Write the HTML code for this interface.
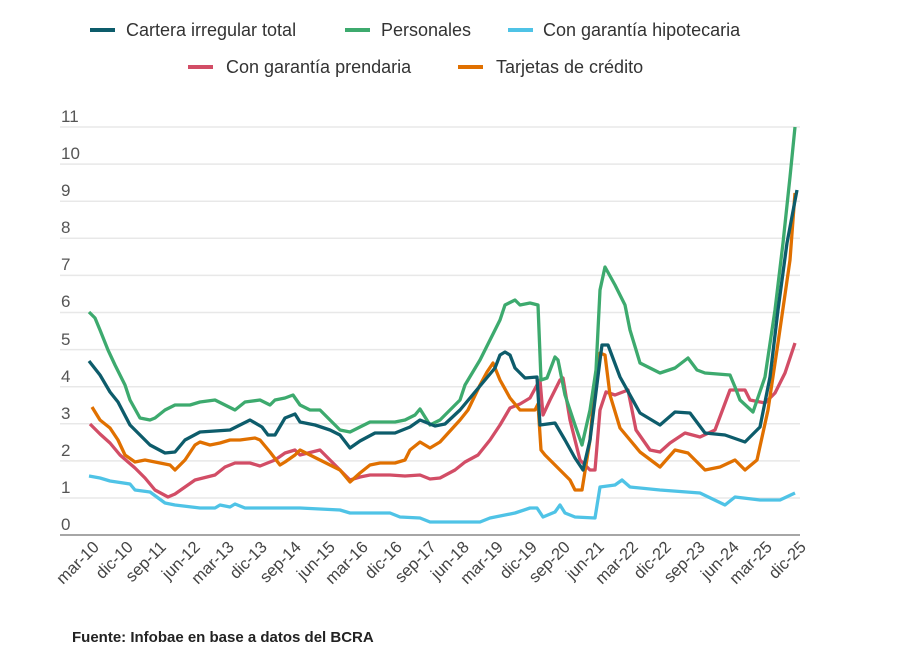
<!DOCTYPE html>
<html><head><meta charset="utf-8"><style>
body{margin:0;background:#fff;width:900px;height:667px;overflow:hidden;font-family:"Liberation Sans",sans-serif}
</style></head><body>
<svg width="900" height="667" xmlns="http://www.w3.org/2000/svg" font-family="Liberation Sans, sans-serif">
<g font-size="18" fill="#333">
<line x1="90" y1="30" x2="115" y2="30" stroke="#0d5c6b" stroke-width="4"/><text x="126" y="36">Cartera irregular total</text>
<line x1="345" y1="30" x2="370" y2="30" stroke="#3daa6e" stroke-width="4"/><text x="381" y="36">Personales</text>
<line x1="508" y1="30" x2="533" y2="30" stroke="#4fc3e6" stroke-width="4"/><text x="543" y="36">Con garantía hipotecaria</text>
<line x1="188" y1="67" x2="213" y2="67" stroke="#d24d66" stroke-width="4"/><text x="226" y="73">Con garantía prendaria</text>
<line x1="458" y1="67" x2="483" y2="67" stroke="#e07000" stroke-width="4"/><text x="496" y="73">Tarjetas de crédito</text>
</g>
<g stroke="#e8e8e8" stroke-width="1.5">
<line x1="60" x2="800" y1="127" y2="127"/><line x1="60" x2="800" y1="164.1" y2="164.1"/><line x1="60" x2="800" y1="201.2" y2="201.2"/><line x1="60" x2="800" y1="238.3" y2="238.3"/><line x1="60" x2="800" y1="275.4" y2="275.4"/><line x1="60" x2="800" y1="312.5" y2="312.5"/><line x1="60" x2="800" y1="349.6" y2="349.6"/><line x1="60" x2="800" y1="386.7" y2="386.7"/><line x1="60" x2="800" y1="423.8" y2="423.8"/><line x1="60" x2="800" y1="460.9" y2="460.9"/><line x1="60" x2="800" y1="498" y2="498"/>
</g>
<line x1="60" x2="800" y1="535" y2="535" stroke="#888" stroke-width="1.5"/>
<g font-size="17" fill="#555">
<text x="61" y="122">11</text><text x="61" y="159">10</text><text x="61" y="196">9</text><text x="61" y="233">8</text><text x="61" y="270">7</text><text x="61" y="307">6</text><text x="61" y="345">5</text><text x="61" y="382">4</text><text x="61" y="419">3</text><text x="61" y="456">2</text><text x="61" y="493">1</text><text x="61" y="530">0</text>
</g>
<g fill="none" stroke-width="3.3" stroke-linejoin="round">
<polyline stroke="#4fc3e6" points="89,476 100,478 110,481 130,484 135,490 150,492 165,503 175,505 200,508 215,508 220,505 230,507 235,504 245,508 300,508 340,510 350,513 390,513 400,517 420,518 430,522 480,522 490,518 515,513 530,508 537,508 543,517 555,512 560,505 565,513 575,517 595,518 600,487 615,485 622,480 630,487 660,490 700,493 725,505 735,497 760,500 780,500 795,493"/>
<polyline stroke="#d24d66" points="90,424 100,434 110,443 120,455 135,468 145,478 155,490 168,497 175,494 185,487 195,480 215,475 225,467 235,463 250,463 260,466 275,460 285,453 295,450 300,455 320,450 330,460 340,470 350,480 360,477 370,475 390,475 405,476 420,475 430,479 440,478 455,470 465,462 478,455 490,440 500,425 510,408 520,404 530,398 537,385 540,380 543,415 550,400 560,380 563,378 570,420 580,460 590,470 595,470 600,410 606,392 615,395 628,390 636,430 650,450 660,452 670,443 685,433 700,437 715,430 730,390 745,390 750,400 765,403 775,393 785,373 795,343"/>
<polyline stroke="#e07000" points="92,407 100,420 110,428 118,440 125,455 135,462 145,460 160,463 170,465 175,470 185,460 195,445 200,442 210,445 220,443 230,440 240,440 255,438 260,440 270,452 280,465 285,462 295,455 300,450 310,455 320,460 330,465 340,470 350,482 360,473 370,465 380,463 395,463 405,460 410,450 420,442 430,448 440,442 460,420 468,410 480,385 487,372 493,363 500,380 510,398 520,410 535,410 538,404 541,450 545,455 555,465 570,480 575,490 582,490 590,440 596,372 600,353 605,355 610,395 620,428 640,452 660,467 675,450 688,453 705,470 720,467 735,460 745,470 757,460 768,410 778,343 790,260 795,193"/>
<polyline stroke="#3daa6e" points="89,312 95,318 100,330 108,350 115,365 125,385 130,400 140,418 150,420 155,418 165,410 175,405 190,405 200,402 215,400 225,405 235,410 245,402 260,400 270,405 275,400 285,398 293,395 300,405 310,410 320,410 330,420 340,430 350,432 360,427 370,422 395,422 405,420 415,415 420,409 430,425 440,420 460,400 465,385 480,360 500,320 505,305 515,300 520,305 530,303 538,305 541,380 547,378 555,357 558,360 565,395 575,425 582,445 590,410 596,370 600,290 605,267 615,285 625,305 630,330 640,363 660,373 675,368 688,358 697,370 705,373 730,375 735,387 740,400 753,412 765,377 775,310 783,243 790,177 795,127"/>
<polyline stroke="#0d5c6b" points="89,361 100,375 110,392 118,402 130,425 150,445 165,453 175,452 185,440 200,432 230,430 240,425 250,420 262,427 268,435 275,435 285,418 295,414 300,422 315,425 330,430 340,435 350,448 360,441 375,433 395,433 410,427 420,420 435,426 445,424 460,410 470,398 485,380 495,368 500,355 505,352 510,355 515,368 525,378 537,377 540,425 555,423 565,440 575,458 583,470 590,440 600,360 602,345 608,345 620,377 640,413 660,425 675,412 690,413 705,433 725,435 745,442 760,427 770,377 778,310 787,243 797,190"/>
</g>
<g font-size="16.5" fill="#444" text-anchor="end">
<text transform="translate(100,548) rotate(-45)">mar-10</text>
<text transform="translate(134,548) rotate(-45)">dic-10</text>
<text transform="translate(167,548) rotate(-45)">sep-11</text>
<text transform="translate(201,548) rotate(-45)">jun-12</text>
<text transform="translate(235,548) rotate(-45)">mar-13</text>
<text transform="translate(268,548) rotate(-45)">dic-13</text>
<text transform="translate(302,548) rotate(-45)">sep-14</text>
<text transform="translate(336,548) rotate(-45)">jun-15</text>
<text transform="translate(369,548) rotate(-45)">mar-16</text>
<text transform="translate(403,548) rotate(-45)">dic-16</text>
<text transform="translate(437,548) rotate(-45)">sep-17</text>
<text transform="translate(470,548) rotate(-45)">jun-18</text>
<text transform="translate(504,548) rotate(-45)">mar-19</text>
<text transform="translate(538,548) rotate(-45)">dic-19</text>
<text transform="translate(571,548) rotate(-45)">sep-20</text>
<text transform="translate(605,548) rotate(-45)">jun-21</text>
<text transform="translate(639,548) rotate(-45)">mar-22</text>
<text transform="translate(672,548) rotate(-45)">dic-22</text>
<text transform="translate(706,548) rotate(-45)">sep-23</text>
<text transform="translate(740,548) rotate(-45)">jun-24</text>
<text transform="translate(773,548) rotate(-45)">mar-25</text>
<text transform="translate(807,548) rotate(-45)">dic-25</text>
</g>
<text x="72" y="642" font-size="15" font-weight="bold" fill="#222">Fuente: Infobae en base a datos del BCRA</text>
</svg>
</body></html>
